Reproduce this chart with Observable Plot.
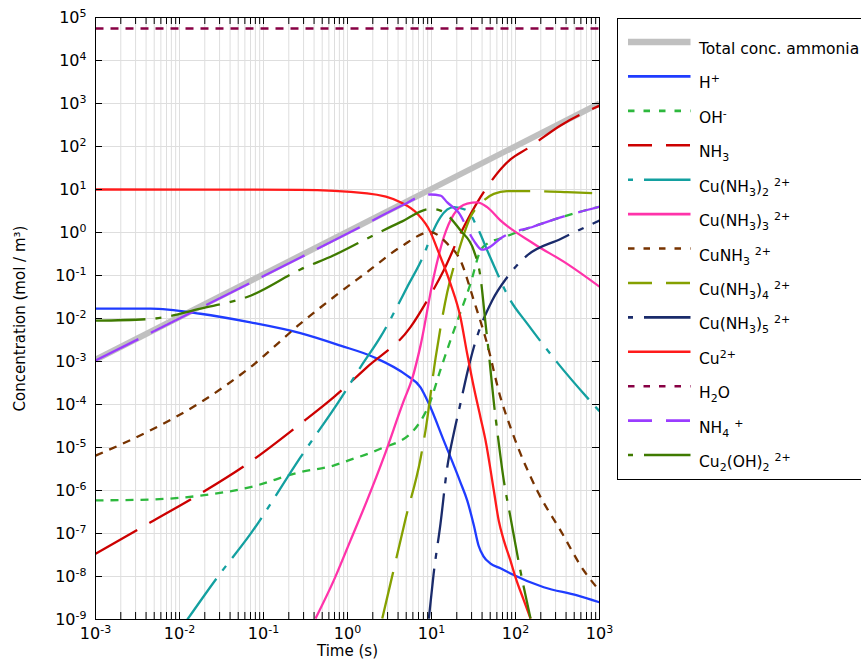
<!DOCTYPE html>
<html>
<head>
<meta charset="utf-8">
<script src="https://cdn.jsdelivr.net/npm/d3@7"></script>
<script src="https://cdn.jsdelivr.net/npm/@observablehq/plot@0.6"></script>
<style>
html, body { margin: 0; padding: 0; background: #fff; }
#wrap { position: relative; width: 861px; height: 659px; overflow: hidden; font-family: "DejaVu Sans", sans-serif; }
#wrap svg { display: block; }
</style>
</head>
<body>
<div id="wrap"></div>
<script>
// ---------- data (time in s, concentration in mol/m^3) ----------
const seriesNames = ["Total conc. ammonia", "H+", "OH-", "NH3", "Cu(NH3)2 2+", "Cu(NH3)3 2+", "CuNH3 2+",
  "Cu(NH3)4 2+", "Cu(NH3)5 2+", "Cu2+", "H2O", "NH4 +", "Cu2(OH)2 2+"];
const legendLabels = ["Total conc. ammonia", "H^{+}", "OH^{-}", "NH_{3}", "Cu(NH_{3})_{2} ^{2+}", "Cu(NH_{3})_{3} ^{2+}",
  "CuNH_{3} ^{2+}", "Cu(NH_{3})_{4} ^{2+}", "Cu(NH_{3})_{5} ^{2+}", "Cu^{2+}", "H_{2}O", "NH_{4} ^{+}", "Cu_{2}(OH)_{2} ^{2+}"];

const tTotal = [0.001, 1000];
const cTotal = [1.1e-3, 1000];

const tH = [0.001, 0.00452, 0.0178, 0.07, 0.275, 0.826, 2.06, 5.13, 7.40, 9.29, 14.0, 22.1, 26.6, 31.9, 36.3, 41.6, 50.4, 66.1, 87.1, 217, 542, 1000];
const cH = [1.70e-2, 1.70e-2, 1.29e-2, 8.13e-3, 4.57e-3, 2.34e-3, 1.26e-3, 4.68e-4, 2.51e-4, 1.05e-4, 1.45e-5, 1.55e-6, 5.89e-7, 1.55e-7, 5.25e-8, 2.95e-8, 2.0e-8, 1.55e-8, 1.17e-8, 5.62e-9, 3.63e-9, 2.51e-9];

const tOH = [0.001, 0.00452, 0.0178, 0.07, 0.275, 0.681, 1.03, 2.47, 5.89, 8.09, 9.29, 12.8, 16.8, 22.1, 29.1, 38.3, 46.0, 66.1, 162, 417, 1000];
const cOH = [5.89e-7, 6.17e-7, 7.59e-7, 1.20e-6, 2.69e-6, 3.80e-6, 5.01e-6, 9.33e-6, 2.29e-5, 5.50e-5, 9.55e-5, 6.46e-4, 3.09e-3, 1.38e-2, 6.46e-2, 0.380, 0.550, 0.724, 1.38, 2.51, 3.98];

const tNH3 = [0.001, 0.00452, 0.0178, 0.07, 0.275, 0.687, 1.71, 5.62, 8.89, 14.0, 22.1, 38.3, 87.1, 138, 344, 1000];
const cNH3 = [3.39e-8, 1.82e-7, 8.51e-7, 4.68e-6, 3.55e-5, 1.48e-4, 7.41e-4, 6.31e-3, 2.63e-2, 0.132, 0.933, 6.61, 50.1, 89.1, 309, 891];

const tCu2 = [0.0124, 0.0282, 0.07, 0.275, 0.826, 1.43, 2.47, 5.13, 8.49, 9.72, 12.8, 18.5, 26.6, 35.0, 48.1, 87.1, 138, 313, 1000];
const cCu2 = [1.0e-9, 9.55e-9, 9.77e-8, 5.89e-6, 1.35e-4, 7.41e-4, 3.72e-3, 5.37e-2, 0.380, 0.776, 2.29, 3.89, 3.24, 1.32, 0.316, 2.63e-2, 7.59e-3, 9.55e-4, 6.92e-5];

const tCu3 = [0.416, 0.687, 1.086, 1.71, 2.70, 4.68, 5.89, 7.40, 10.6, 14.0, 18.5, 26.6, 35.0, 46.0, 66.1, 165, 412, 1000];
const cCu3 = [1.05e-9, 8.13e-9, 6.92e-8, 5.89e-7, 5.89e-6, 1.23e-4, 3.98e-4, 2.34e-3, 9.12e-2, 0.776, 2.69, 4.68, 5.01, 3.89, 1.91, 0.550, 0.186, 5.50e-2];

const tCu1 = [0.001, 0.00452, 0.0178, 0.07, 0.275, 0.687, 1.71, 4.27, 9.72, 15.4, 22.1, 31.9, 46.0, 66.1, 87.1, 181, 344, 650, 1000];
const cCu1 = [6.46e-6, 2.51e-5, 1.12e-4, 7.41e-4, 7.59e-3, 3.16e-2, 0.120, 0.457, 1.02, 0.550, 0.224, 2.63e-2, 2.57e-3, 1.48e-4, 2.95e-5, 1.0e-6, 1.17e-7, 1.38e-8, 4.68e-9];

const tCu4 = [2.59, 3.25, 4.90, 7.40, 8.49, 11.2, 15.4, 21.1, 29.1, 38.3, 55.2, 79.4, 165, 412, 1000];
const cCu4 = [1.05e-9, 6.92e-9, 2.14e-7, 5.50e-6, 2.51e-5, 1.23e-3, 4.07e-2, 0.380, 2.29, 4.68, 7.94, 9.12, 9.12, 8.71, 8.13];

const tCu5 = [9.29, 10.6, 12.8, 15.4, 18.5, 22.1, 26.6, 31.9, 52.8, 79.6, 138, 344, 1000];
const cCu5 = [1.05e-9, 1.15e-8, 1.70e-7, 3.47e-6, 2.24e-5, 1.05e-4, 5.37e-4, 2.14e-3, 2.63e-2, 9.12e-2, 0.295, 0.708, 1.91];

const tCu = [0.001, 0.275, 1.71, 4.27, 6.76, 9.72, 11.7, 16.8, 22.1, 26.6, 31.9, 38.3, 44.0, 55.2, 63.1, 72.6, 87.1, 100, 126, 151];
const cCu = [10, 9.84, 8.13, 5.07, 2.75, 1.02, 0.417, 6.46e-2, 1.07e-2, 1.51e-3, 2.51e-4, 5.01e-5, 1.45e-5, 1.0e-6, 2.0e-7, 6.92e-8, 2.34e-8, 9.55e-9, 2.75e-9, 1.05e-9];

const tH2O = [0.001, 1000];
const cH2O = [5.55e4, 5.55e4];

const tNH4 = [0.001, 0.275, 1.0, 4.68, 7.40, 9.77, 12.8, 15.4, 20.9, 31.9, 39.8, 50.1, 66.1, 165, 417, 1000];
const cNH4 = [1.05e-3, 0.263, 0.95, 4.47, 6.92, 7.66, 7.24, 5.01, 2.95, 0.646, 0.398, 0.468, 0.724, 1.38, 2.51, 3.98];

const tCu2OH2 = [0.001, 0.00452, 0.0178, 0.07, 0.275, 0.687, 1.71, 4.27, 9.72, 12.8, 22.1, 31.9, 38.3, 44.0, 48.2, 55.2, 60.5, 72.6, 87.1, 110, 151];
const cCu2OH2 = [8.91e-3, 9.77e-3, 1.70e-2, 3.39e-2, 0.138, 0.295, 0.724, 1.74, 3.55, 3.24, 1.12, 0.380, 9.12e-2, 7.59e-3, 1.51e-3, 1.12e-4, 2.51e-5, 1.70e-6, 2.40e-7, 2.0e-8, 1.05e-9];

const xTickValues = [1e-3, 1e-2, 1e-1, 1e0, 1e1, 1e2, 1e3];
const yTickValues = [1e-9, 1e-8, 1e-7, 1e-6, 1e-5, 1e-4, 1e-3, 1e-2, 1e-1, 1e0, 1e1, 1e2, 1e3, 1e4, 1e5];
const minorMultiples = [2, 3, 4, 5, 6, 7, 8, 9];

// ---------- styles ----------
const SHORT = "8,7", LONG = "48,14", DASHDOT = "50,10,6,10";
const LSHORT = "6.5,9", LLONG = "24,14", LDASHDOT = "5,11,50,10";
const styles = [
  {stroke: "#c0c0c0", w: 6,   dash: null,    ldash: null,     lw: 6.5},
  {stroke: "#1f3cff", w: 2.3, dash: null,    ldash: null,     lw: 2.6},
  {stroke: "#2db83d", w: 2.3, dash: SHORT,   ldash: LSHORT,   lw: 2.6},
  {stroke: "#cc0000", w: 2.3, dash: LONG,    ldash: LLONG,    lw: 2.6},
  {stroke: "#13a0a0", w: 2.3, dash: DASHDOT, ldash: LDASHDOT, lw: 2.6},
  {stroke: "#ff33aa", w: 2.3, dash: null,    ldash: null,     lw: 2.6},
  {stroke: "#773300", w: 2.3, dash: SHORT,   ldash: LSHORT,   lw: 2.6},
  {stroke: "#85a000", w: 2.3, dash: LONG,    ldash: LLONG,    lw: 2.6},
  {stroke: "#1a2b6b", w: 2.3, dash: DASHDOT, ldash: LDASHDOT, lw: 2.6},
  {stroke: "#ff1a1a", w: 2.3, dash: null,    ldash: null,     lw: 2.6},
  {stroke: "#880044", w: 2.3, dash: SHORT,   ldash: LSHORT,   lw: 2.6},
  {stroke: "#9a3cff", w: 2.3, dash: LONG,    ldash: LLONG,    lw: 2.6},
  {stroke: "#3f7a00", w: 2.3, dash: DASHDOT, ldash: LDASHDOT, lw: 2.6}
];

const seriesData = [
  [tTotal, cTotal], [tH, cH], [tOH, cOH], [tNH3, cNH3], [tCu2, cCu2], [tCu3, cCu3], [tCu1, cCu1],
  [tCu4, cCu4], [tCu5, cCu5], [tCu, cCu], [tH2O, cH2O], [tNH4, cNH4], [tCu2OH2, cCu2OH2]
];

// ---------- layout ----------
const W = 861, H = 659, ML = 95, MR = 262, MT = 17, MB = 40;
const PW = W - ML - MR, PH = H - MT - MB;

const xGrid = xTickValues.concat(xTickValues.slice(0, -1).flatMap(d => minorMultiples.map(k => k * d)));

const supChars = {"-": "⁻", "0": "⁰", "1": "¹", "2": "²", "3": "³", "4": "⁴", "5": "⁵", "6": "⁶", "7": "⁷", "8": "⁸", "9": "⁹"};
const fmt = d => "10" + String(Math.round(Math.log10(d))).split("").map(c => supChars[c]).join("");

const lineMarks = seriesData.map(([ts, cs], i) => {
  const st = styles[i];
  const rows = ts.map((t, j) => ({t, c: cs[j], name: seriesNames[i]}));
  const opts = {x: "t", y: "c", stroke: st.stroke, strokeWidth: st.w, curve: "monotone-x", clip: true, strokeLinecap: "butt"};
  if (st.dash) opts.strokeDasharray = st.dash;
  return Plot.line(rows, opts);
});

const chart = Plot.plot({
  width: W, height: H,
  marginLeft: ML, marginRight: MR, marginTop: MT, marginBottom: MB,
  style: {fontFamily: "'DejaVu Sans', sans-serif", fontSize: "16px", color: "#000", background: "#fff"},
  x: {type: "log", domain: [1e-3, 1e3], label: null},
  y: {type: "log", domain: [1e-9, 1e5], label: null},
  marks: [
    Plot.ruleX(xGrid, {stroke: "#dedede", strokeWidth: 1}),
    Plot.ruleY(yTickValues, {stroke: "#dedede", strokeWidth: 1}),
    ...lineMarks,
    Plot.frame({stroke: "#000", strokeWidth: 1}),
    Plot.ruleX(xGrid, {stroke: "#000", insetTop: PH - 7}),
    Plot.ruleX(xGrid, {stroke: "#000", insetBottom: PH - 7}),
    Plot.ruleY(yTickValues, {stroke: "#000", insetRight: PW - 7}),
    Plot.ruleY(yTickValues, {stroke: "#000", insetLeft: PW - 7}),
    Plot.axisX(xTickValues, {tickFormat: fmt, tickSize: 0, tickPadding: 8, label: null}),
    Plot.axisY(yTickValues, {tickFormat: fmt, tickSize: 0, tickPadding: 9, label: null}),
    Plot.text(["Time (s)"], {text: d => d, frameAnchor: "bottom", textAnchor: "middle", lineAnchor: "bottom", dy: 36, fontSize: 15}),
    Plot.text(["Concentration (mol / m³)"], {text: d => d, frameAnchor: "left", textAnchor: "middle", lineAnchor: "middle", dx: -75, rotate: -90, fontSize: 15})
  ]
});

// superscript tick labels as real text with tspans
const NS = "http://www.w3.org/2000/svg";
const unsup = {"⁻": "-", "⁰": "0", "¹": "1", "²": "2", "³": "3", "⁴": "4", "⁵": "5", "⁶": "6", "⁷": "7", "⁸": "8", "⁹": "9"};
chart.querySelectorAll("text").forEach(el => {
  const m = el.textContent.match(/^10([⁻⁰¹²³⁴⁵⁶⁷⁸⁹]+)$/);
  if (!m) return;
  const exp = [...m[1]].map(ch => unsup[ch]).join("");
  el.textContent = "";
  const a = document.createElementNS(NS, "tspan");
  a.textContent = "10";
  const b = document.createElementNS(NS, "tspan");
  b.setAttribute("dy", "-6");
  b.setAttribute("font-size", "11");
  b.textContent = exp;
  el.appendChild(a);
  el.appendChild(b);
});

const wrap = document.getElementById("wrap");
wrap.appendChild(chart);

// ---------- legend ----------
const legend = d3.create("svg")
  .attr("width", 250).attr("height", 463)
  .style("position", "absolute").style("left", "617px").style("top", "18px");
legend.append("rect").attr("x", 0.5).attr("y", 0.5).attr("width", 270).attr("height", 461)
  .attr("fill", "#fff").attr("stroke", "#000").attr("stroke-width", 1);

function richText(sel, markup) {
  const parts = markup.split(/(_\{[^}]*\}|\^\{[^}]*\})/).filter(p => p.length);
  let shift = 0;
  for (const p of parts) {
    let target = 0, size = null, str = p;
    if (p.startsWith("_{")) { target = 4; size = 11; str = p.slice(2, -1); }
    else if (p.startsWith("^{")) { target = -6; size = 11; str = p.slice(2, -1); }
    const ts = sel.append("tspan").attr("dy", target - shift).text(str);
    if (size) ts.attr("font-size", size);
    shift = target;
  }
}

legendLabels.forEach((lab, i) => {
  const st = styles[i];
  const y = 24 + i * 34.42;
  const ln = legend.append("line")
    .attr("x1", 11).attr("x2", 73.5).attr("y1", y).attr("y2", y)
    .attr("stroke", st.stroke).attr("stroke-width", st.lw);
  if (st.ldash) ln.attr("stroke-dasharray", st.ldash);
  const tx = legend.append("text")
    .attr("x", 82).attr("y", y + 12)
    .attr("font-family", "'DejaVu Sans', sans-serif").attr("font-size", 15.5)
    .attr("fill", "#000").style("white-space", "pre");
  richText(tx, lab);
});

wrap.appendChild(legend.node());
</script>
</body>
</html>
